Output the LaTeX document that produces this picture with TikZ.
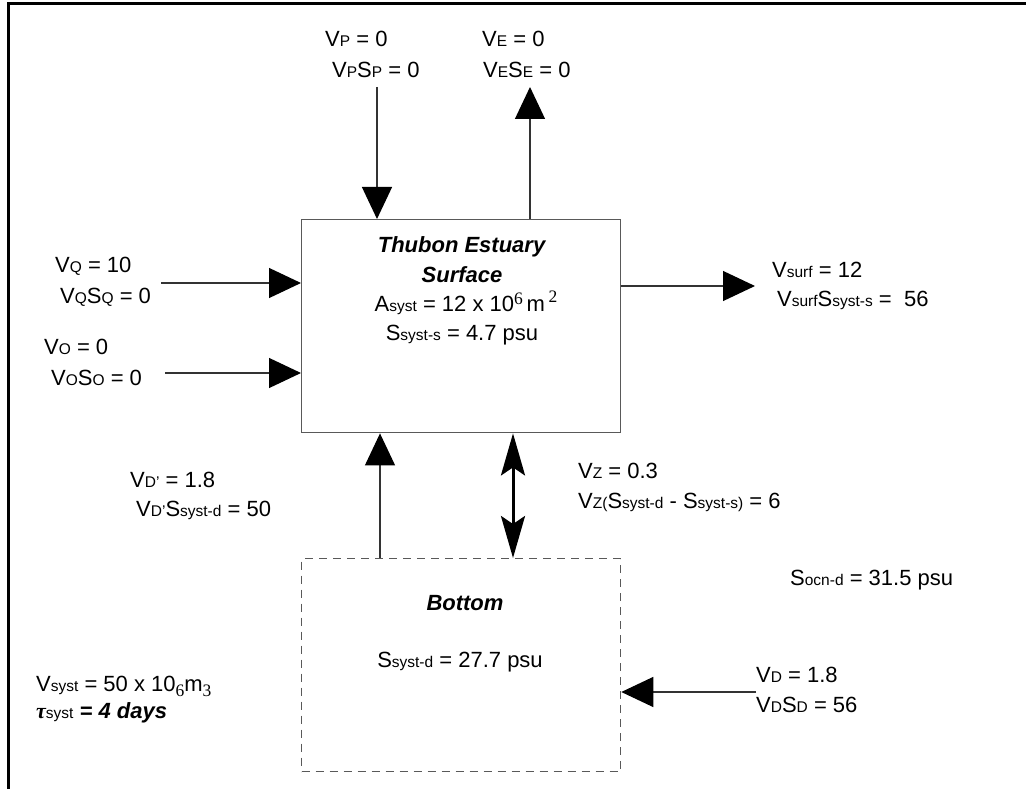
\documentclass[tikz,border=0pt]{standalone}
\usepackage{fontspec}
\setmainfont{Liberation Sans}
\newfontfamily\serifnum{Liberation Serif}
\usetikzlibrary{arrows.meta}

% small letters set on the baseline, used for the indices
\newcommand\lo[1]{{\fontsize{15.5}{16}\selectfont #1}}
% raised / lowered serif figures for powers
\newcommand\upnum[2]{\raisebox{#1}{\serifnum\fontsize{17.5}{18}\selectfont #2}}

\begin{document}
\begin{tikzpicture}[x=1pt,y=-1pt,
  every node/.style={font=\fontsize{22}{26}\selectfont, inner sep=0pt},
  lbl/.style={anchor=base west},
  mid/.style={anchor=base},
  box/.style={draw=black!65, line width=1.4pt, minimum width=319pt},
  dbox/.style={draw=black!65, line width=1.3pt, dash pattern=on 8pt off 6pt, minimum width=319pt},
  flow/.style={draw=black!80, line width=1.2pt, -{Triangle[length=32pt,width=30pt,color=black]}},
  zflow/.style={draw=black, line width=3pt,
     {Stealth[length=42pt,width=24pt,inset=8pt]}-{Stealth[length=42pt,width=24pt,inset=8pt]}},
  frameline/.style={line width=2.6pt}]
\useasboundingbox (0,0) rectangle (1026,789);

% frame along the top and left edges
\coordinate (fb) at (8.5,789);
\coordinate (fc) at (8.5,3.5);
\coordinate (fr) at (1026,3.5);
\draw[frameline] (fb) -- (fc) -- (fr);

% the two compartments
\node[box, minimum height=213pt, anchor=north west] (surf) at (301,219) {};
\node[dbox, minimum height=213pt, anchor=north west] (bot) at (301,558) {};

% surface compartment text
\node[mid] (tTitle) at (462,252) {\textbf{\textit{Thubon Estuary}}};
\node[mid] (tSurf) at (462,282) {\textbf{\textit{Surface}}};
\node[mid] (tArea) at (466,311) {A\lo{syst} = 12 x 10\upnum{7pt}{6}\,m\,\upnum{9pt}{2}};
\node[mid] (tSs) at (462,340) {S\lo{syst-s} = 4.7 psu};

% bottom compartment text
\node[mid] (tBot) at (465,610) {\textbf{\textit{Bottom}}};
\node[mid] (tSd) at (460,667) {S\lo{syst-d} = 27.7 psu};

% precipitation
\node[lbl] (tVP) at (325,47) {V\lo{P} = 0};
\node[lbl] (tVPSP) at (332,78) {V\lo{P}S\lo{P} = 0};
\coordinate (pSrc) at (377,87);
\draw[flow] (pSrc) -- (pSrc |- surf.north);

% evaporation
\node[lbl] (tVE) at (482,47) {V\lo{E} = 0};
\node[lbl] (tVESE) at (483,78) {V\lo{E}S\lo{E} = 0};
\coordinate (eDst) at (530,87);
\draw[flow] (eDst |- surf.north) -- (eDst);

% river discharge
\node[lbl] (tVQ) at (55,272) {V\lo{Q} = 10};
\node[lbl] (tVQSQ) at (60,303) {V\lo{Q}S\lo{Q} = 0};
\coordinate (qSrc) at (161,283);
\draw[flow] (qSrc) -- (qSrc -| surf.west);

% other inflow
\node[lbl] (tVO) at (44,354) {V\lo{O} = 0};
\node[lbl] (tVOSO) at (51,385) {V\lo{O}S\lo{O} = 0};
\coordinate (oSrc) at (165,373);
\draw[flow] (oSrc) -- (oSrc -| surf.west);

% surface outflow
\node[lbl] (tVs) at (772,277) {V\lo{surf} = 12};
\node[lbl] (tVsS) at (777,306) {V\lo{surf}S\lo{syst-s} =\ \ 56};
\coordinate (sDst) at (755,286);
\draw[flow] (sDst -| surf.east) -- (sDst);

% upward flux from the bottom layer
\node[lbl] (tVDp) at (130,487) {V\lo{D'} = 1.8};
\node[lbl] (tVDpS) at (136,516) {V\lo{D'}S\lo{syst-d} = 50};
\coordinate (dx) at (380,500);
\draw[flow] (dx |- bot.north) -- (dx |- surf.south);

% vertical mixing
\node[lbl] (tVZ) at (578,478) {V\lo{Z} = 0.3};
\node[lbl] (tVZS) at (578,508) {V\lo{Z(}S\lo{syst-d} - S\lo{syst-s}\lo{)} = 6};
\coordinate (zx) at (513,500);
\draw[zflow] (zx |- surf.south) -- (zx |- bot.north);

% ocean salinity
\node[lbl] (tSo) at (790,585) {S\lo{ocn-d} = 31.5 psu};

% deep inflow from the ocean
\node[lbl] (tVD) at (756,682) {V\lo{D} = 1.8};
\node[lbl] (tVDSD) at (756,712) {V\lo{D}S\lo{D} = 56};
\coordinate (dSrc) at (756,692);
\draw[flow] (dSrc) -- (dSrc -| bot.east);

% system totals
\node[lbl] (tVsyst) at (36,691) {V\lo{syst} = 50 x 10\upnum{-5pt}{6}m\upnum{-5pt}{3}};
\node[lbl] (tTau) at (36,718) {{\serifnum\bfseries\itshape τ}\lo{syst} \textbf{\textit{= 4 days}}};
\end{tikzpicture}
\end{document}
